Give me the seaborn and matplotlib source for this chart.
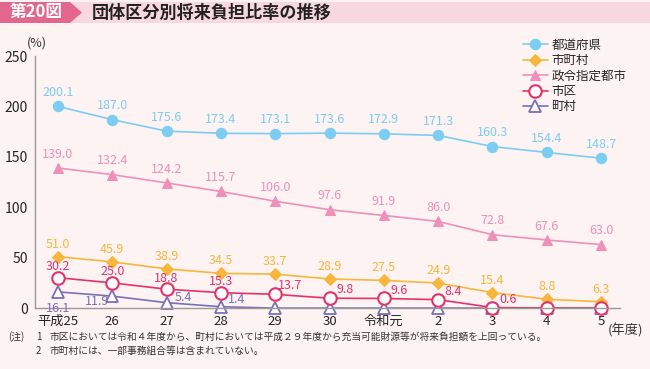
"""
団体区分別将来負担比率の推移 (第20図)
"""
import pandas as pd
import numpy as np
import matplotlib
matplotlib.use("Agg")
import matplotlib.pyplot as plt
from matplotlib.patches import Polygon, Rectangle
import seaborn as sns

sns.set_style("white")
plt.rcParams["font.family"] = ["Noto Sans CJK JP", "DejaVu Sans"]

# ── data ────────────────────────────────────────────────────────────────────
years = ["平成25", "26", "27", "28", "29", "30", "令和元", "2", "3", "4", "5"]
todofuken = [200.1, 187.0, 175.6, 173.4, 173.1, 173.6, 172.9, 171.3, 160.3, 154.4, 148.7]
shichoson = [51.0, 45.9, 38.9, 34.5, 33.7, 28.9, 27.5, 24.9, 15.4, 8.8, 6.3]
seirei = [139.0, 132.4, 124.2, 115.7, 106.0, 97.6, 91.9, 86.0, 72.8, 67.6, 63.0]
shiku = [30.2, 25.0, 18.8, 15.3, 13.7, 9.8, 9.6, 8.4, 0.6, 0.0, 0.0]
choson = [16.1, 11.9, 5.4, 1.4, 0.0, 0.0, 0.0, 0.0, 0.0, 0.0, 0.0]
# how many leading values carry a label (zeros are not labelled)
shiku_labeled = 9
choson_labeled = 4

BG = "#fdf3f3"
C_BLUE = "#7ccdf1"
C_ORANGE = "#f6b73c"
C_PINK = "#ef8fba"
C_RED = "#e4336a"
C_PURPLE = "#7a70b8"

x = np.arange(len(years))
df = pd.DataFrame({"x": x, "都道府県": todofuken, "市町村": shichoson,
                   "政令指定都市": seirei, "市区": shiku, "町村": choson})

fig = plt.figure(figsize=(6.5, 3.69), dpi=100, facecolor=BG)
ax = fig.add_axes([0.054, 0.165, 0.9, 0.683])
ax.set_facecolor(BG)

# ── lines ───────────────────────────────────────────────────────────────────
styles = {
    "都道府県": dict(color=C_BLUE, marker="o", markersize=7.5, markerfacecolor=C_BLUE,
                 markeredgecolor=C_BLUE),
    "市町村": dict(color=C_ORANGE, marker="D", markersize=6.5, markerfacecolor=C_ORANGE,
                markeredgecolor=C_ORANGE),
    "政令指定都市": dict(color=C_PINK, marker="^", markersize=7, markerfacecolor=C_PINK,
                   markeredgecolor=C_PINK),
    "町村": dict(color=C_PURPLE, marker="^", markersize=8.5, markerfacecolor="white",
               markeredgecolor=C_PURPLE, markeredgewidth=1.3),
    "市区": dict(color=C_RED, marker="o", markersize=9, markerfacecolor="white",
               markeredgecolor=C_RED, markeredgewidth=1.5),
}
handles = {}
for name in ["都道府県", "市町村", "政令指定都市", "町村", "市区"]:
    sns.lineplot(data=df, x="x", y=name, ax=ax, linewidth=1.2, clip_on=False,
                 label=name, **styles[name])
    handles[name] = ax.get_lines()[-1]

# ── value labels ────────────────────────────────────────────────────────────
def label(vals, color, n=None, offsets=None, size=9):
    n = len(vals) if n is None else n
    for i in range(n):
        dx, dy = (0, 10) if offsets is None or i not in offsets else offsets[i]
        ax.annotate(f"{vals[i]:.1f}", (x[i], vals[i]), xytext=(dx, dy),
                    textcoords="offset points", ha="center", va="center",
                    color=color, fontsize=size, annotation_clip=False)

label(todofuken, C_BLUE)
label(seirei, C_PINK)
label(shichoson, C_ORANGE, offsets={i: (0, 9) for i in range(11)})
label(shiku, C_RED, shiku_labeled,
      offsets={0: (0, 8), 1: (0, 8), 2: (0, 8), 3: (0, 8),
               4: (11, 6), 5: (11, 6), 6: (11, 6), 7: (11, 6), 8: (11, 6)})
label(choson, C_PURPLE, choson_labeled,
      offsets={0: (0, -12), 1: (-11, -4), 2: (12, 4), 3: (11, 5)})

# ── axes ────────────────────────────────────────────────────────────────────
ax.set_xlim(-0.42, 10.35)
ax.set_ylim(0, 250)
ax.set_xticks(x)
ax.set_xticklabels(years, fontsize=9.5)
ax.set_yticks([0, 50, 100, 150, 200, 250])
ax.set_yticklabels(["0", "50", "100", "150", "200", "250"], fontsize=10)
ax.tick_params(axis="y", length=3, color="#888888", pad=2)
ax.tick_params(axis="x", length=0, pad=5)
for s in ["top", "right"]:
    ax.spines[s].set_visible(False)
for s in ["left", "bottom"]:
    ax.spines[s].set_color("#999999")
    ax.spines[s].set_linewidth(1.0)
ax.set_xlabel("")
ax.set_ylabel("")
ax.text(10.12, -0.06, "(年度)", transform=ax.get_xaxis_transform(), fontsize=9.5,
        ha="left", va="top", color="#333333")
fig.text(37 / 650, 1 - 43 / 369, "(%)", fontsize=9, ha="center", va="center",
         color="#333333")

# legend
leg = ax.legend([handles[k] for k in ["都道府県", "市町村", "政令指定都市", "市区", "町村"]],
                ["都道府県", "市町村", "政令指定都市", "市区", "町村"],
                loc="upper left", bbox_to_anchor=(0.825, 1.09), frameon=False,
                fontsize=9, handlelength=2.0, labelspacing=0.2, handletextpad=0.3,
                borderaxespad=0)

# ── title banner ────────────────────────────────────────────────────────────
W, H = 650, 369
def fx(px):
    return px / W
def fy(py):
    return 1 - py / H
fig.patches.append(Rectangle((fx(70), fy(23)), 1 - fx(70), fy(2) - fy(23),
                             transform=fig.transFigure, facecolor="#f8d8df",
                             edgecolor="none", zorder=0))
fig.patches.append(Polygon([(fx(0), fy(2)), (fx(70), fy(2)), (fx(82), fy(12.5)),
                            (fx(70), fy(23)), (fx(0), fy(23))], closed=True,
                           transform=fig.transFigure, facecolor="#e3668e",
                           edgecolor="none", zorder=1))
fig.text(fx(36), fy(12.5), "第20図", color="white", fontsize=12, fontweight="bold",
         ha="center", va="center")
fig.text(fx(92), fy(12.5), "団体区分別将来負担比率の推移", color="#222222", fontsize=12.3,
         fontweight="bold", ha="left", va="center")

# ── notes ───────────────────────────────────────────────────────────────────
fig.text(fx(8), fy(337), "(注)", fontsize=7, ha="left", va="center", color="#333333")
fig.text(fx(36), fy(337), "1", fontsize=7, ha="left", va="center", color="#333333")
fig.text(fx(50), fy(337),
         "市区においては令和４年度から、町村においては平成２９年度から充当可能財源等が将来負担額を上回っている。",
         fontsize=7, ha="left", va="center", color="#333333")
fig.text(fx(36), fy(351), "2", fontsize=7, ha="left", va="center", color="#333333")
fig.text(fx(50), fy(351), "市町村には、一部事務組合等は含まれていない。",
         fontsize=7, ha="left", va="center", color="#333333")

fig.savefig("out.png", dpi=100, facecolor=BG)
